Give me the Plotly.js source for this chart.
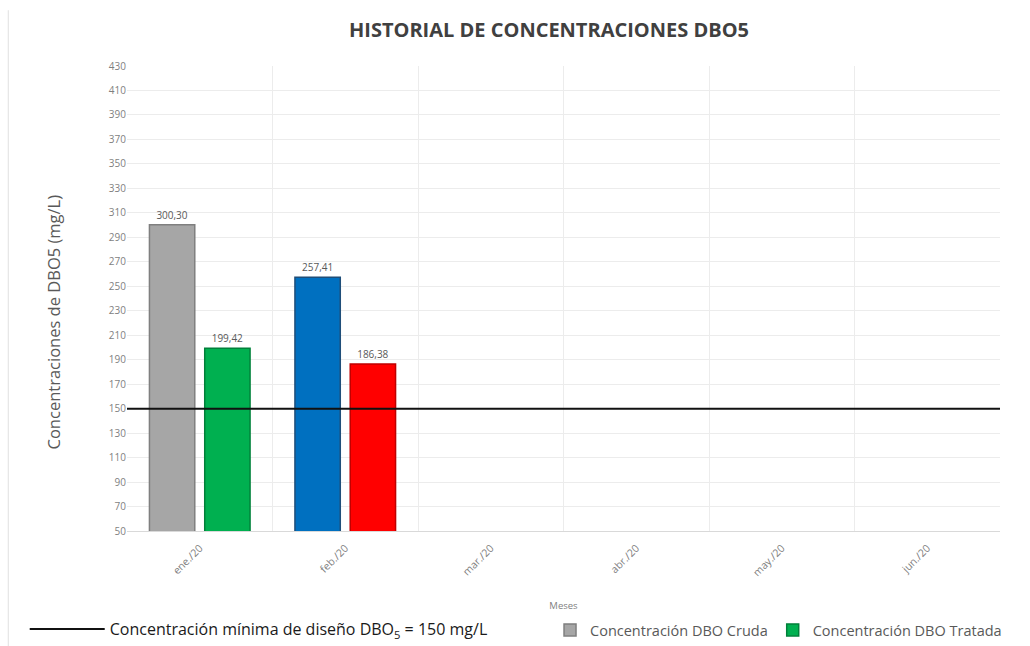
<!DOCTYPE html>
<html><head><meta charset="utf-8">
<script src="https://cdn.plot.ly/plotly-3.0.1.min.js"></script>
<style>html,body{margin:0;padding:0;background:#fff}</style>
</head><body>
<div id="chart" style="width:1030px;height:646px"></div>
<script>
const months = ["ene./20","feb./20","mar./20","abr./20","may./20","jun./20"];
const cruda = [300.30, 257.41, null, null, null, null];
const tratada = [199.42, 186.38, null, null, null, null];
const crudaColors = ["#a6a6a6","#0070c0","#a6a6a6","#a6a6a6","#a6a6a6","#a6a6a6"];
const crudaLines = ["#7f7f7f","#1f4e79","#7f7f7f","#7f7f7f","#7f7f7f","#7f7f7f"];
const tratadaColors = ["#00b050","#ff0000","#00b050","#00b050","#00b050","#00b050"];
const tratadaLines = ["#00803a","#c00000","#00803a","#00803a","#00803a","#00803a"];
const limitX = [0, 1];
const limitY = [150, 150];

const font = "'Open Sans', 'Noto Sans', sans-serif";

const traces = [
  {
    type: "scatter", mode: "lines", x: limitX, y: limitY, xaxis: "x2", yaxis: "y",
    name: "Concentración mínima de diseño DBO<sub>5</sub> = 150 mg/L",
    line: {color: "#111111", width: 2}, legend: "legend", hoverinfo: "skip"
  },
  {
    type: "bar", x: months, y: cruda, name: "Concentración DBO Cruda",
    marker: {color: crudaColors, line: {color: crudaLines, width: 1.5}},
    texttemplate: "%{y:.2f}", textposition: "outside", cliponaxis: false,
    textfont: {family: font, size: 10, color: "#595959"}, legend: "legend2"
  },
  {
    type: "bar", x: months, y: tratada, name: "Concentración DBO Tratada",
    marker: {color: tratadaColors, line: {color: tratadaLines, width: 1.5}},
    texttemplate: "%{y:.2f}", textposition: "outside", cliponaxis: false,
    textfont: {family: font, size: 10, color: "#595959"}, legend: "legend2"
  }
];

const layout = {
  width: 1030, height: 646,
  margin: {l: 127, r: 30, t: 66, b: 115},
  paper_bgcolor: "#ffffff", plot_bgcolor: "#ffffff",
  separators: ",.",
  font: {family: font, color: "#595959"},
  title: {text: "<b>HISTORIAL DE CONCENTRACIONES DBO5</b>", x: 0.533, xanchor: "center", y: 0.953, yanchor: "middle",
          font: {family: font, size: 20, color: "#404040"}},
  barmode: "group", bargap: 0.24, bargroupgap: 0.18,
  xaxis: {
    type: "category", categoryorder: "array", categoryarray: months, range: [-0.5, 5.5],
    tickangle: -45, tickfont: {family: font, size: 10.5, color: "#7f7f7f"},
    showgrid: true, gridcolor: "#ececec", tickson: "boundaries", ticks: "", ticklabelstandoff: 6,
    showline: true, linecolor: "#d9d9d9", zeroline: false,
    title: {text: "Meses", font: {family: font, size: 9.5, color: "#7f7f7f"}, standoff: 34}
  },
  xaxis2: {overlaying: "x", range: [0, 1], visible: false, fixedrange: true},
  yaxis: {
    range: [50, 430], dtick: 20, tick0: 50, showgrid: true, gridcolor: "#ececec",
    zeroline: false, showline: false, ticks: "", tickfont: {family: font, size: 10, color: "#7f7f7f"}
  },
  annotations: [
    {text: "Concentraciones de DBO5 (mg/L)", textangle: -90, xref: "paper", yref: "paper",
     x: -0.0845, y: 0.449, xanchor: "center", yanchor: "middle", showarrow: false,
     font: {family: font, size: 16.5, color: "#595959"}}
  ],
  legend: {
    orientation: "h", x: 0.024, xref: "container", y: 0.0, yref: "container", yanchor: "bottom", xanchor: "left",
    itemwidth: 75, font: {family: font, size: 16, color: "#1a1a1a"}, bgcolor: "rgba(0,0,0,0)"
  },
  legend2: {
    orientation: "h", x: 0.534, xref: "container", y: 0.0, yref: "container", yanchor: "bottom", xanchor: "left",
    itemwidth: 30, font: {family: font, size: 14.5, color: "#595959"}, bgcolor: "rgba(0,0,0,0)",
    traceorder: "normal"
  },
  shapes: [
    {type: "line", xref: "paper", yref: "paper", x0: -0.136, x1: -0.136, y0: -0.25, y1: 1.12,
     line: {color: "#e0e0e0", width: 1}}
  ],
  showlegend: true
};

Plotly.newPlot("chart", traces, layout, {displayModeBar: false, staticPlot: true});
</script>
</body></html>
